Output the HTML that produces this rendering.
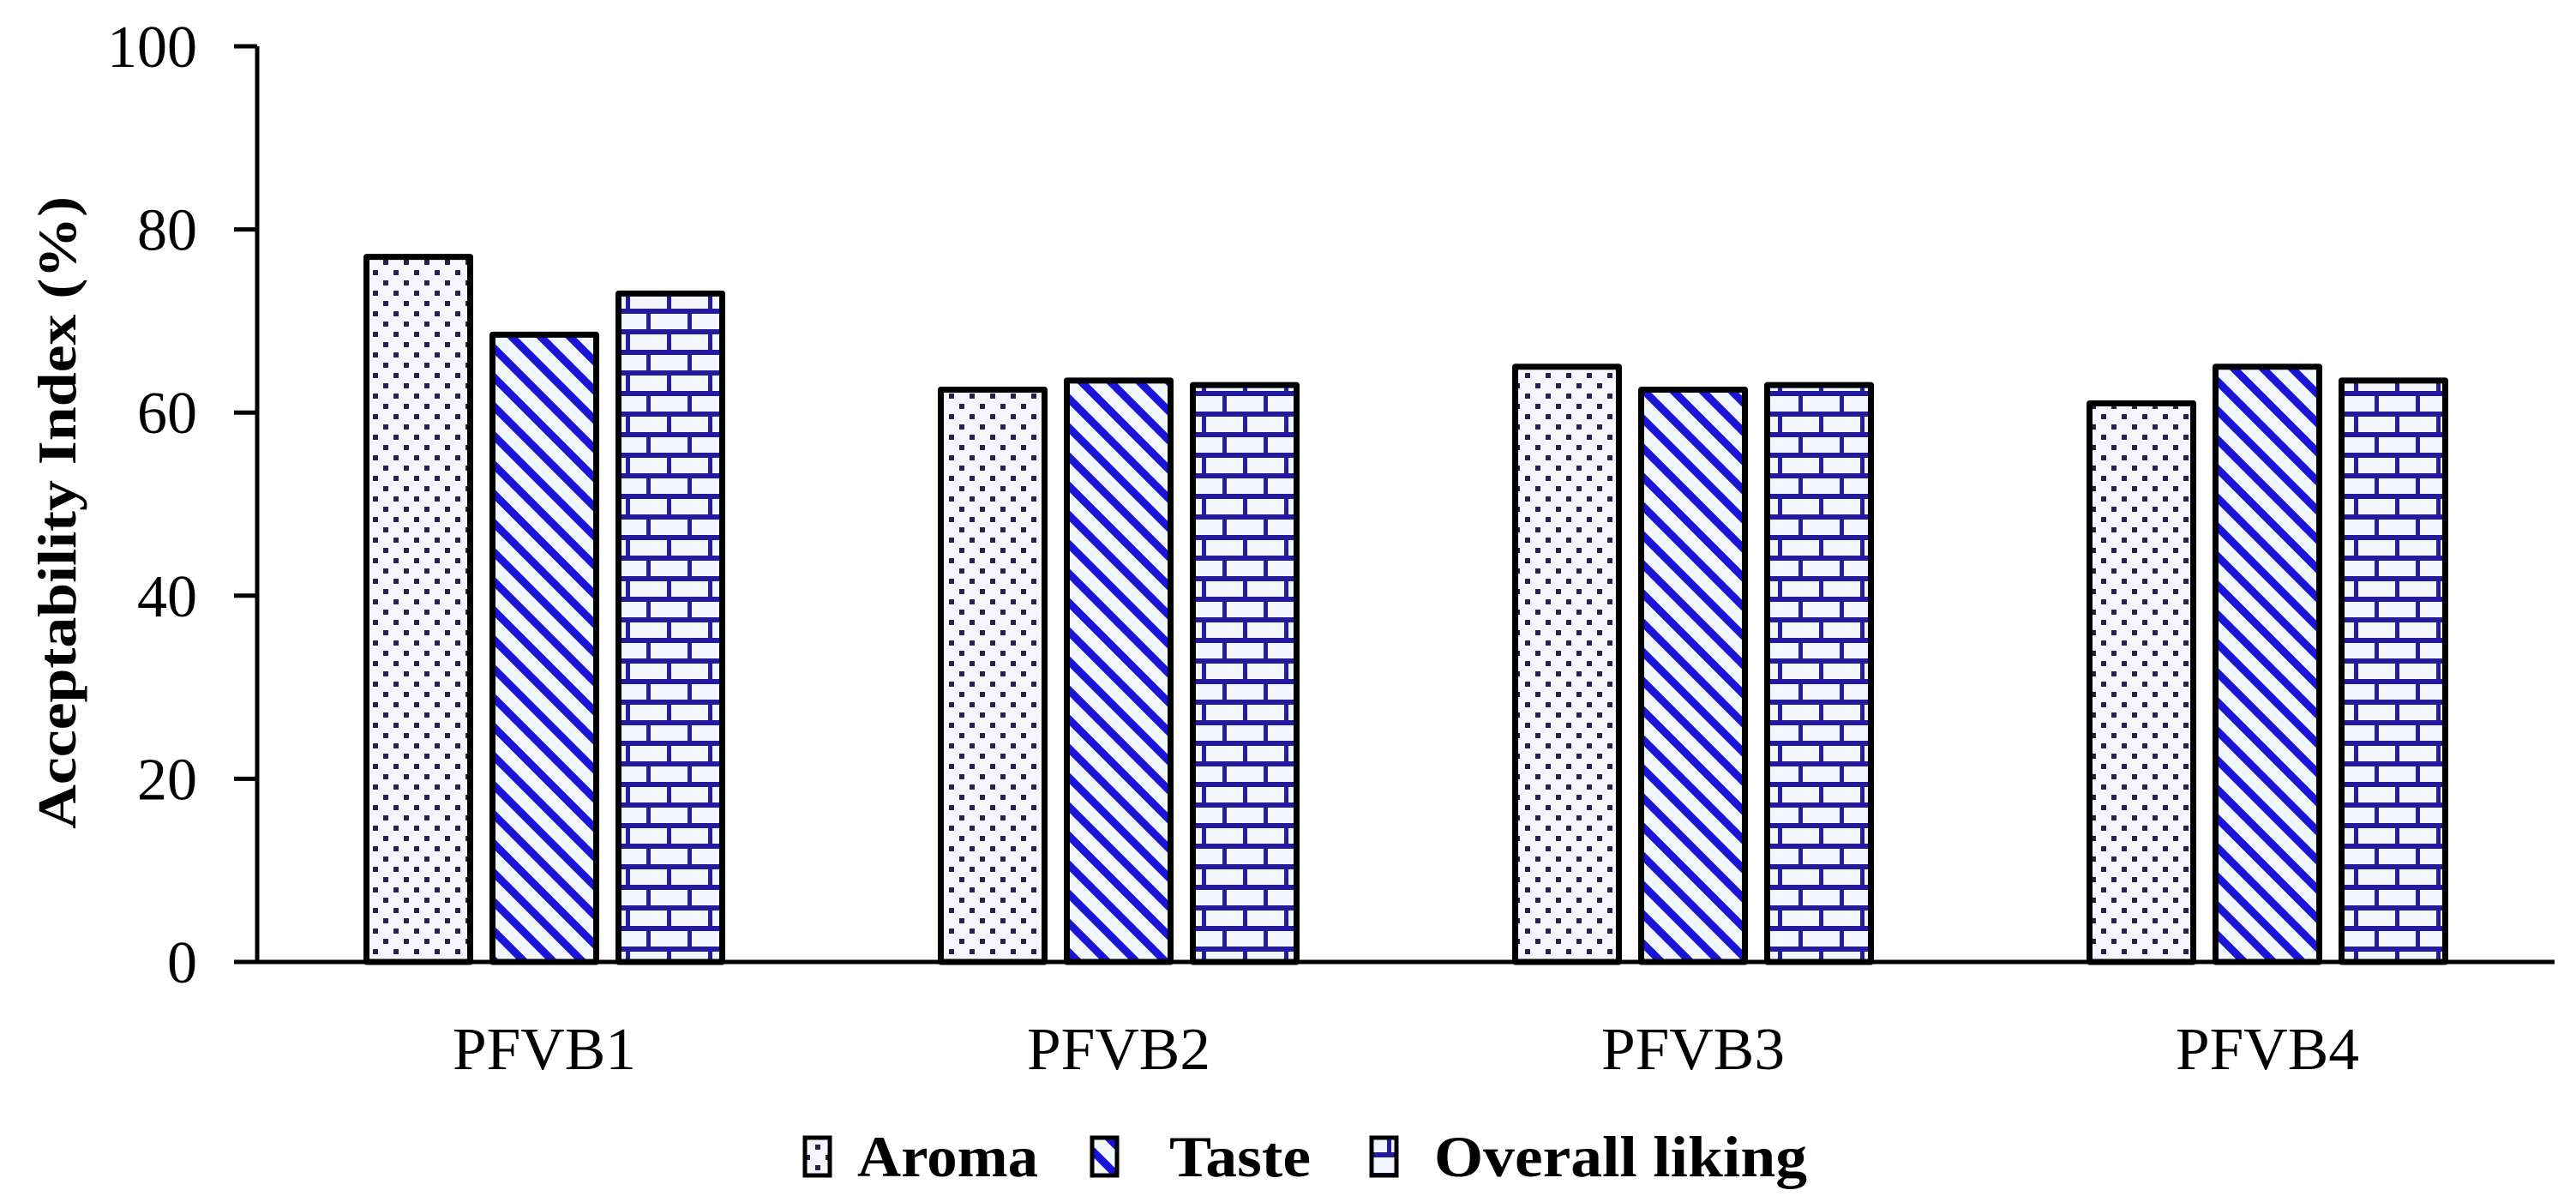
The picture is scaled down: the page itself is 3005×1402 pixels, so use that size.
<!DOCTYPE html>
<html><head><meta charset="utf-8">
<style>
html,body{margin:0;padding:0;background:#fff;}
svg{display:block;}
</style></head>
<body>
<svg id="chart" width="3005" height="1402" viewBox="0 0 3005 1402" xmlns="http://www.w3.org/2000/svg">
<defs>
<pattern id="pDots" patternUnits="userSpaceOnUse" width="24" height="24">
<rect width="24" height="24" fill="#f7f6ff"/>
<rect x="3" y="3" width="6" height="6" fill="#22224a"/>
<rect x="15" y="15" width="6" height="6" fill="#22224a"/>
</pattern>
<pattern id="pDiag" patternUnits="userSpaceOnUse" width="34" height="34">
<rect width="34" height="34" fill="#f2f6ff"/>
<path d="M-10,-10 L44,44" stroke="#1a14d8" stroke-width="9"/>
<path d="M-44,-10 L10,44" stroke="#1a14d8" stroke-width="9"/>
<path d="M24,-10 L78,44" stroke="#1a14d8" stroke-width="9"/>
</pattern>
<pattern id="pBrick" patternUnits="userSpaceOnUse" width="48" height="48">
<rect width="48" height="48" fill="#f3f6ff"/>
<rect x="0" y="0" width="48" height="6" fill="#241c9c"/>
<rect x="0" y="24" width="48" height="6" fill="#241c9c"/>
<rect x="10" y="0" width="5" height="24" fill="#241c9c"/>
<rect x="34" y="24" width="5" height="24" fill="#241c9c"/>
</pattern>
</defs>
<g id="plot"></g>
</svg>
<script>
const categories = ["PFVB1","PFVB2","PFVB3","PFVB4"];
const seriesNames = ["Aroma","Taste","Overall liking"];
const aroma = [77, 62.5, 65, 61];
const taste = [68.5, 63.5, 62.5, 65];
const overall = [73, 63, 63, 63.5];
const yTicks = [0,20,40,60,80,100];

const NS = "http://www.w3.org/2000/svg";
const g = document.getElementById("plot");
const X0 = 300, X1 = 2980, Y0 = 1122, Y100 = 54;
const fills = ["url(#pDots)","url(#pDiag)","url(#pBrick)"];
const series = [aroma, taste, overall];
function y(v){ return Y0 - (v/100)*(Y0-Y100); }
function xc(i){ return X0 + (X1-X0)/categories.length*(i+0.5); }
function mk(tag, attrs){ const e=document.createElementNS(NS,tag); for(const k in attrs) e.setAttribute(k,attrs[k]); g.appendChild(e); return e; }

const BW = 121, STEP = 147;
categories.forEach((c,i)=>{
  series.forEach((s,j)=>{
    const x = xc(i) + (j-1)*STEP - BW/2;
    const r = mk("rect",{x:x,y:y(s[i]),width:BW,height:Y0-y(s[i]),fill:fills[j],stroke:"#000","stroke-width":7,"stroke-linejoin":"round"});
    
    
  });
  const t = mk("text",{x:xc(i),y:1247,"text-anchor":"middle","font-family":"Liberation Serif, serif","font-size":70,textLength:214,lengthAdjust:"spacingAndGlyphs"});
  t.textContent = c;
  
  
});

const ya = mk("line",{x1:X0,y1:Y100,x2:X0,y2:Y0,stroke:"#000","stroke-width":5});


const xa = mk("line",{x1:273,y1:Y0,x2:X1,y2:Y0,stroke:"#000","stroke-width":5});


yTicks.forEach(v=>{
  const tk = mk("line",{x1:273,y1:y(v),x2:X0,y2:y(v),stroke:"#000","stroke-width":5});
  
  
  const t = mk("text",{x:230,y:y(v)+24,"text-anchor":"end","font-family":"Liberation Serif, serif","font-size":70});
  t.textContent = v;
  
  
});

const yt = mk("text",{x:0,y:0,transform:"translate(88,598) rotate(-90)","text-anchor":"middle","font-family":"Liberation Serif, serif","font-size":64,"font-weight":"bold",textLength:738,lengthAdjust:"spacingAndGlyphs"});
yt.textContent = "Acceptability Index (%)";



const legBox = [939, 1274, 1600];
const legText = [[1000,211],[1364,165],[1673,435]];
seriesNames.forEach((n,j)=>{
  const b = mk("rect",{x:legBox[j],y:1327,width:29,height:44,fill:fills[j],stroke:"#000","stroke-width":5});
  
  
  const t = mk("text",{x:legText[j][0],y:1372,"font-family":"Liberation Serif, serif","font-size":68,"font-weight":"bold",textLength:legText[j][1],lengthAdjust:"spacingAndGlyphs"});
  t.textContent = n;
  
  
});
</script>
</body></html>
